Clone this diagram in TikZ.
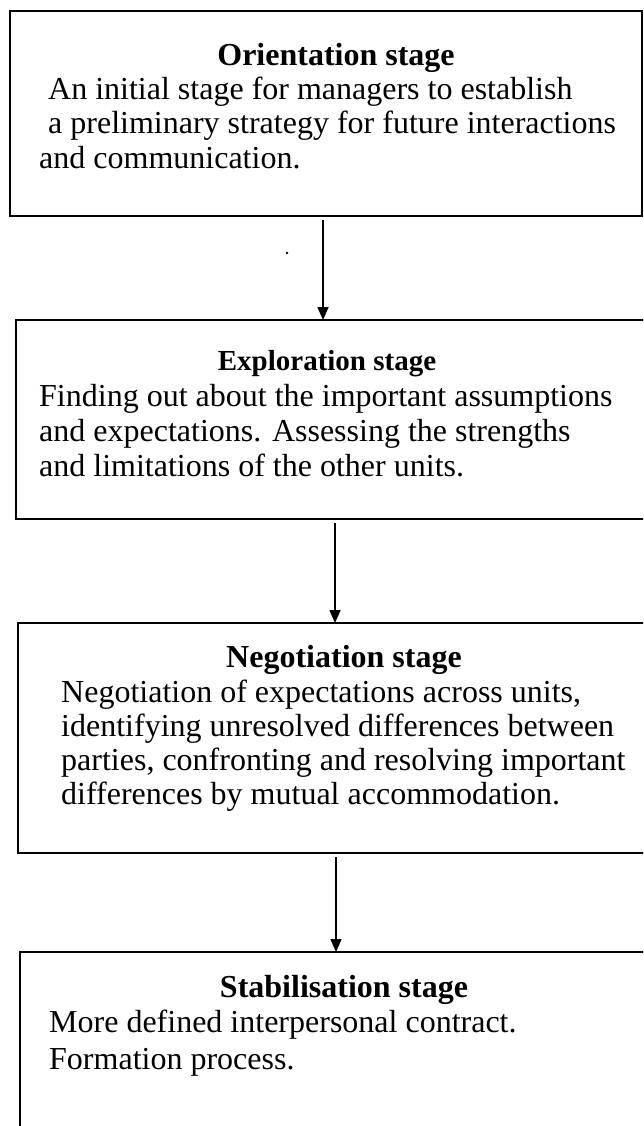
\documentclass[tikz,border=0pt]{standalone}
\usepackage{fontspec}
\setmainfont{Liberation Serif}
\usetikzlibrary{arrows.meta}
\begin{document}
\begin{tikzpicture}[x=1pt,y=-1pt,
  stagebox/.style={draw, line width=2pt, rectangle, inner sep=0pt, outer sep=0pt, anchor=north west},
  heading/.style={font=\fontsize{32}{34}\selectfont\bfseries, inner sep=0pt, anchor=base},
  bodyline/.style={font=\fontsize{32}{34}\selectfont, inner sep=0pt, anchor=base west},
  flow/.style={line width=1.6pt, shorten <=4pt, -{Triangle[length=13pt,width=11pt]}}]
\useasboundingbox (0,0) rectangle (643,1126);
\clip (0,0) rectangle (643,1126);

% stage boxes
\node[stagebox, minimum width=632pt, minimum height=205pt] (b1) at (10,11) {};
\node[stagebox, minimum width=660pt, minimum height=199pt] (b2) at (16,320) {};
\node[stagebox, minimum width=660pt, minimum height=230pt] (b3) at (18,623) {};
\node[stagebox, minimum width=660pt, minimum height=200pt] (b4) at (20,952) {};

% orientation stage
\node[heading] (h1) at (336,66) {Orientation stage};
\node[bodyline] (t11) at (48,100) {An initial stage for managers to establish};
\node[bodyline] (t12) at (48,134) {a preliminary strategy for future interactions};
\node[bodyline] (t13) at (39,168) {and communication.};

% exploration stage
\node[heading, font=\fontsize{29}{34}\selectfont\bfseries] (h2) at (327,370) {Exploration stage};
\node[bodyline] (t21) at (39,406) {Finding out about the important assumptions};
\node[bodyline] (t22) at (39,441) {and expectations. Assessing the strengths};
\node[bodyline] (t23) at (39,476) {and limitations of the other units.};

% negotiation stage
\node[heading] (h3) at (344,667) {Negotiation stage};
\node[bodyline] (t31) at (61,702) {Negotiation of expectations across units,};
\node[bodyline] (t32) at (61,736) {identifying unresolved differences between};
\node[bodyline] (t33) at (61,770) {parties, confronting and resolving important};
\node[bodyline] (t34) at (61,804) {differences by mutual accommodation.};

% stabilisation stage
\node[heading] (h4) at (344,997) {Stabilisation stage};
\node[bodyline] (t41) at (49,1032) {More defined interpersonal contract.};
\node[bodyline] (t42) at (49,1069) {Formation process.};

% connectors
\coordinate (c1) at (323,0);
\coordinate (c2) at (335,0);
\coordinate (c3) at (336,0);
\draw[flow] (b1.south -| c1) -- (b2.north -| c1);
\draw[flow] (b2.south -| c2) -- (b3.north -| c2);
\draw[flow] (b3.south -| c3) -- (b4.north -| c3);

% small speck beside the first connector
\fill (287,253) circle (1.3pt);
\end{tikzpicture}
\end{document}
